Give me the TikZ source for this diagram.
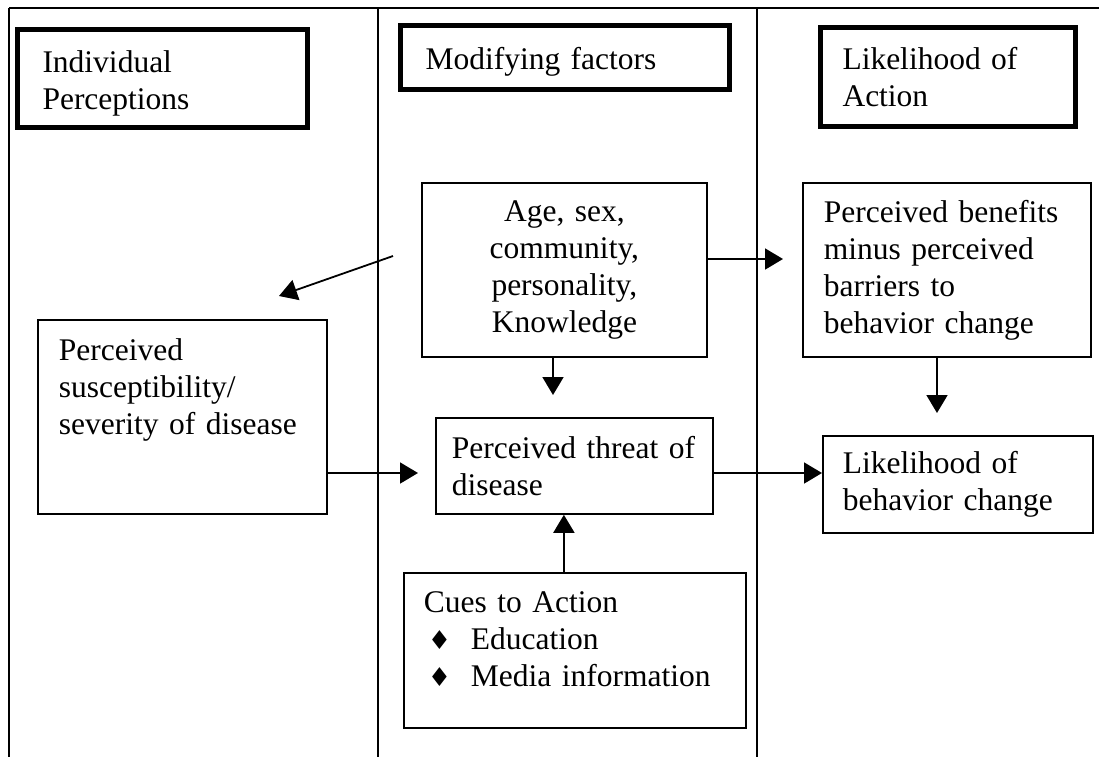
\documentclass[tikz,border=0pt]{standalone}
\usepackage{fontspec}
\setmainfont{Liberation Serif}
\newfontfamily\symfont{DejaVu Sans}
\usetikzlibrary{arrows.meta}

\newcommand{\bulletmark}{\hspace*{2pt}\makebox[21.5pt][l]{\symfont\fontsize{13}{13}\selectfont ♦}}

\tikzset{
  rule/.style={line width=0.7pt},
  plain/.style={draw, line width=0.9pt, anchor=north west, align=left,
    font=\fontsize{15.75}{18.5}\selectfont, inner ysep=2pt},
  heading/.style={plain, line width=2.5pt},
  link/.style={line width=0.9pt, -{Triangle[length=9pt,width=10.5pt]}},
}

\begin{document}
\begin{tikzpicture}[x=0.5pt,y=-0.5pt]
    \useasboundingbox (0,0) rectangle (1099,757);

    \draw[rule] (9,8) -- (1099,8);
    \draw[rule] (9,8) -- (9,757);
    \draw[rule] (378,8) -- (378,757);
    \draw[rule] (757,8) -- (757,757);

    \node[heading, inner xsep=12.5pt, text width=120pt, minimum height=49pt,
      text height=11pt, text depth=17pt]
      (indiv) at (15,27) {Individual\\Perceptions};
    \node[heading, inner xsep=12.5pt, text width=139.5pt, minimum height=32pt,
      text height=12pt, text depth=0pt]
      (modif) at (398,23) {Modifying factors};
    \node[heading, inner xsep=11pt, text width=105.5pt, minimum height=49.5pt]
      (likeli) at (818,25) {Likelihood of\\Action};

    \node[plain, align=center, inner xsep=5pt, text width=132.5pt, minimum height=87pt]
      (age) at (421,182) {Age, sex,\\community,\\personality,\\Knowledge};
    \node[plain, inner xsep=10.5pt, text width=123pt, minimum height=87pt]
      (benef) at (802,182) {Perceived benefits\\minus perceived\\barriers to\\behavior change};
    \node[plain, inner xsep=10.5pt, text width=123.5pt, minimum height=97pt,
      text height=11pt, text depth=67pt]
      (susc) at (37,319) {Perceived\\susceptibility/\\severity of disease};
    \node[plain, inner xsep=8pt, text width=122.5pt, minimum height=48pt]
      (threat) at (435,417) {Perceived threat of\\disease};
    \node[plain, inner xsep=10pt, text width=115pt, minimum height=48.5pt]
      (behav) at (822,435) {Likelihood of\\behavior change};
    \node[plain, inner xsep=10pt, text width=151pt, minimum height=77.5pt,
      text height=11pt, text depth=48.5pt]
      (cues) at (403,572) {Cues to Action\\\bulletmark Education\\\bulletmark Media information};

    \coordinate (diagfrom) at (393,256);
    \coordinate (diagto) at (279,296);
    \coordinate (benefin) at (783,259);
    \coordinate (threattop) at (553,395);
    \coordinate (behavtop) at (937,413);
    \coordinate (threatin) at (418,473);
    \coordinate (behavin) at (822,473);

    \draw[link] (diagfrom) -- (diagto);
    \draw[link] (age.east |- benefin) -- (benefin);
    \draw[link] (age.south -| threattop) -- (threattop);
    \draw[link] (benef.south -| behavtop) -- (behavtop);
    \draw[link] (susc.east |- threatin) -- (threatin);
    \draw[link] (threat.east |- behavin) -- (behavin);
    \draw[link] ([xshift=-5.5pt]cues.north) -- ([xshift=-5.5pt]cues.north |- threat.south);

\end{tikzpicture}
\end{document}
